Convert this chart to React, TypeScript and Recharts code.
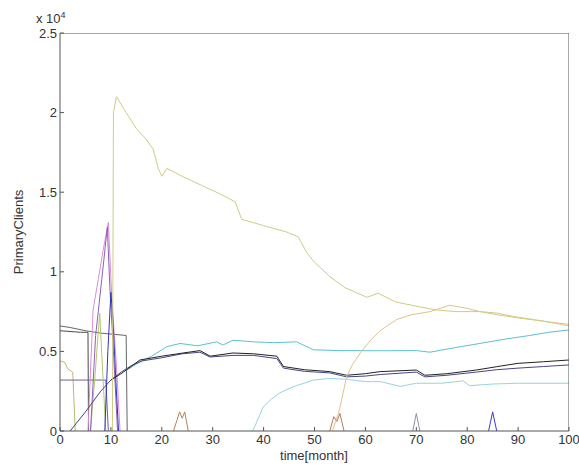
import React from 'react';
import { LineChart, Line, XAxis, YAxis } from 'recharts';

// each series is a list of [month, primary clients]
const oliveMain: [number, number][] = [
  [10.3, 0], [10.5, 20000], [11.1, 21000], [13, 20000], [15, 19000], [17, 18300],
  [18.3, 17700], [19.3, 16500], [20, 16000], [21, 16500], [24, 16000], [28, 15400],
  [31.4, 14900], [34.4, 14400], [35.7, 13300], [40, 12900], [44.5, 12500], [46.8, 12200],
  [48.5, 11200], [50, 10600], [53, 9700], [56, 9000], [60.3, 8400], [62.5, 8650],
  [66, 8100], [70.7, 7800], [74, 7600], [78, 7500], [82.5, 7500], [86, 7300],
  [90, 7100], [95, 6900], [100, 6600],
];

const orangeRise: [number, number][] = [
  [53.5, 0], [54.7, 1100], [55.5, 2200], [56.3, 3400], [57.5, 4200], [59, 4900],
  [61, 5700], [62.9, 6300], [66.1, 7000], [69, 7300], [72.7, 7500], [76.6, 7900],
  [80, 7700], [82.5, 7500], [86, 7400], [89, 7200], [93, 7000], [96, 6850], [100, 6700],
];

const cyanUpper: [number, number][] = [
  [13, 3800], [15, 4200], [18, 4700], [21, 5300], [23.6, 5500], [27, 5350],
  [30.8, 5600], [32, 5400], [34, 5700], [38, 5600], [42, 5550], [46.5, 5600],
  [49.8, 5100], [55, 5050], [62.9, 5040], [70, 5050], [72.7, 4950], [77, 5200],
  [82.5, 5500], [87, 5750], [92.3, 6000], [96, 6200], [100, 6350],
];

const cyanLower: [number, number][] = [
  [37.8, 0], [38.3, 300], [39.9, 1500], [41.5, 2000], [43.2, 2400], [46, 2800],
  [49.8, 3200], [53, 3300], [56.3, 3250], [60, 3100], [63, 3100], [66.8, 2800],
  [70, 3000], [75, 3000], [79.2, 3150], [80.5, 2850], [85, 2950], [90, 3000], [100, 3000],
];

const blackMid: [number, number][] = [
  [10, 3200], [12, 3600], [15.7, 4460], [20, 4700], [24.2, 4900], [27.5, 5050],
  [29.5, 4700], [34, 4900], [38, 4850], [42.6, 4700], [43.9, 4050], [48, 3850],
  [53, 3730], [56.3, 3500], [60, 3600], [62.9, 3730], [70, 3830], [71.7, 3500],
  [76, 3600], [81.8, 3830], [85.8, 4040], [90, 4250], [95, 4350], [100, 4460],
];

const navyMid: [number, number][] = [
  [2, 0], [5, 1200], [8, 2500], [10, 3200], [12, 3700], [14, 4100], [16, 4400],
  [20, 4600], [24, 4850], [27.5, 4950], [29.5, 4650], [34, 4750], [38, 4750],
  [42.6, 4550], [43.9, 3950], [48, 3750], [53, 3650], [56.3, 3400], [60, 3450],
  [63, 3550], [70, 3700], [71.7, 3400], [76, 3500], [81.8, 3700], [85.8, 3850],
  [90, 3950], [95, 4050], [100, 4150],
];

const grayTop: [number, number][] = [
  [0, 6600], [2, 6500], [5, 6300], [8, 6150], [13, 6000], [13.2, 0],
];
const darkTop: [number, number][] = [
  [0, 6300], [4, 6200], [5.5, 6200], [5.6, 0],
];
const oliveLeft: [number, number][] = [
  [0, 4400], [1, 4300], [1.5, 3900], [2.5, 3700], [3, 0],
];
const purpleFlat: [number, number][] = [
  [0, 3200], [9, 3200], [9.5, 0],
];
const magentaSpike: [number, number][] = [
  [5.5, 0], [6.5, 7600], [7.5, 9500], [8.5, 11400], [9.5, 13100], [10.2, 8200],
  [11.1, 4000], [11.8, 0],
];
const purpleSpike: [number, number][] = [
  [6, 0], [7, 6000], [8.2, 9500], [9.3, 12800], [9.8, 9000], [10.5, 5000], [11.3, 0],
];
const blueSpike: [number, number][] = [
  [8.8, 0], [9.4, 5000], [10, 8700], [10.4, 7000], [11, 3000], [11.5, 0],
];
const greenSpike: [number, number][] = [
  [6, 0], [7, 4000], [7.8, 7400], [8.5, 3000], [9, 0],
];
const brownSpike1: [number, number][] = [
  [22.3, 0], [23, 700], [23.5, 1200], [24, 800], [24.5, 1200], [25.2, 0],
];
const brownSpike2: [number, number][] = [
  [53, 0], [53.8, 900], [54.4, 600], [55, 1100], [55.8, 0],
];
const graySpike: [number, number][] = [
  [69.3, 0], [70, 1100], [70.7, 0],
];
const blueSpike2: [number, number][] = [
  [84.2, 0], [85, 1200], [85.8, 0],
];

const monthTicks = [0, 10, 20, 30, 40, 50, 60, 70, 80, 90, 100];
const clientTicks = [0, 5000, 10000, 15000, 20000, 25000];

const X_MAX = 100;
const Y_MAX = 25000;

// top + right edges of the matlab box, along the axis limits
const boxEdge: [number, number][] = [
  [0, Y_MAX], [X_MAX, Y_MAX], [X_MAX, 0],
];

const series = [
  { name: 'oliveLeft', pts: oliveLeft, color: '#c0b870' },
  { name: 'grayTop', pts: grayTop, color: '#666' },
  { name: 'darkTop', pts: darkTop, color: '#4a4a4a' },
  { name: 'purpleFlat', pts: purpleFlat, color: '#6e6090' },
  { name: 'greenSpike', pts: greenSpike, color: '#b0c870' },
  { name: 'magentaSpike', pts: magentaSpike, color: '#dc8cdc' },
  { name: 'purpleSpike', pts: purpleSpike, color: '#9060b8' },
  { name: 'blueSpike', pts: blueSpike, color: '#3434bc' },
  { name: 'brownSpike1', pts: brownSpike1, color: '#b88458' },
  { name: 'brownSpike2', pts: brownSpike2, color: '#b07c58' },
  { name: 'graySpike', pts: graySpike, color: '#9090a8' },
  { name: 'blueSpike2', pts: blueSpike2, color: '#3a3ac4' },
  { name: 'cyanLower', pts: cyanLower, color: '#94d6de' },
  { name: 'cyanUpper', pts: cyanUpper, color: '#58c2d0' },
  { name: 'navyMid', pts: navyMid, color: '#44448a' },
  { name: 'blackMid', pts: blackMid, color: '#222' },
  { name: 'orangeRise', pts: orangeRise, color: '#e0c288' },
  { name: 'oliveMain', pts: oliveMain, color: '#cfcd80' },
  { name: 'boxEdge', pts: boxEdge, color: '#555' },
];

const font = { fontFamily: '"Liberation Sans", Arial, sans-serif', fontSize: 13, fill: '#333' };
const toRows = (pts: [number, number][]) => pts.map(([t, v]) => ({ t, v }));

export default function App() {
  return (
    <div style={{ position: 'absolute', left: 0, top: 0, width: 579, height: 473, background: '#fff' }}>
      <LineChart width={579} height={473} margin={{ top: 33, right: 10, bottom: 0, left: 0 }}>
        <XAxis
          xAxisId="b"
          dataKey="t"
          type="number"
          domain={[0, X_MAX]}
          ticks={monthTicks}
          height={42}
          tickSize={-4}
          tickMargin={8}
          interval={0}
          stroke="#555"
          tick={font}
          allowDataOverflow
        />
        <YAxis
          yAxisId="l"
          type="number"
          domain={[0, Y_MAX]}
          ticks={clientTicks}
          width={60}
          tickSize={-4}
          tickMargin={7}
          interval={0}
          stroke="#555"
          tick={font}
          tickFormatter={(v: number) => String(v / 10000)}
          allowDataOverflow
        />
        {series.map((s) => (
          <Line
            key={s.name}
            xAxisId="b"
            yAxisId="l"
            data={toRows(s.pts)}
            dataKey="v"
            type="linear"
            stroke={s.color}
            strokeWidth={1}
            dot={false}
            activeDot={false}
            isAnimationActive={false}
          />
        ))}
      </LineChart>
      <div style={{ position: 'absolute', left: 36, top: 10, fontFamily: '"Liberation Sans", Arial, sans-serif', fontSize: 13, color: '#333' }}>
        x 10<sup style={{ fontSize: 9 }}>4</sup>
      </div>
      <div
        style={{
          position: 'absolute', left: 18, top: 232, transform: 'translate(-50%, -50%) rotate(-90deg)',
          fontFamily: '"Liberation Sans", Arial, sans-serif', fontSize: 13, color: '#333', whiteSpace: 'nowrap',
        }}
      >
        PrimaryClients
      </div>
      <div
        style={{
          position: 'absolute', left: 314, top: 455, transform: 'translate(-50%, -50%)',
          fontFamily: '"Liberation Sans", Arial, sans-serif', fontSize: 13, color: '#333', whiteSpace: 'nowrap',
        }}
      >
        time[month]
      </div>
    </div>
  );
}
